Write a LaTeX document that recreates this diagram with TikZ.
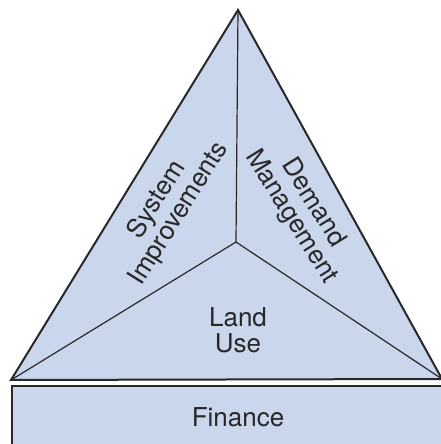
\documentclass[tikz,border=0pt]{standalone}
\usepackage{fontspec}
\setmainfont{TeX Gyre Heros}
\definecolor{panelblue}{RGB}{201,214,236}
\definecolor{inkgray}{RGB}{40,40,40}

\begin{document}
\begin{tikzpicture}[x=1pt,y=1pt]
		\useasboundingbox (0,0) rectangle (441,444);
		\clip (0,0) rectangle (441,444);
		\coordinate (T) at (238,434);
		\coordinate (L) at (11,64);
		\coordinate (R) at (442,65);
		\coordinate (M) at (236,202);
		\begin{scope}[draw=inkgray]
			\filldraw [fill=panelblue,line width=2pt] (12,58) rectangle (450,-20);
			\filldraw [fill=panelblue,line width=2pt,line join=miter] (T) -- (L) -- (R) -- cycle;
			\draw [line width=1.2pt] (M) -- (T);
			\draw [line width=1.2pt] (M) -- (L);
			\draw [line width=1.2pt] (M) -- (R);
		\end{scope}
		\begin{scope}[every node/.style={text=inkgray,align=center,
			font=\fontsize{26}{26}\selectfont}]
			\node [rotate=58] (SI) at (168,237) {System\\Improvements};
			\node [rotate=-58] (DM) at (302,234) {Demand\\Management};
			\node (LU) at (238,114) {Land\\Use};
			\node [anchor=base] (FI) at (238,17) {Finance};
		\end{scope}
	\end{tikzpicture}
\end{document}
